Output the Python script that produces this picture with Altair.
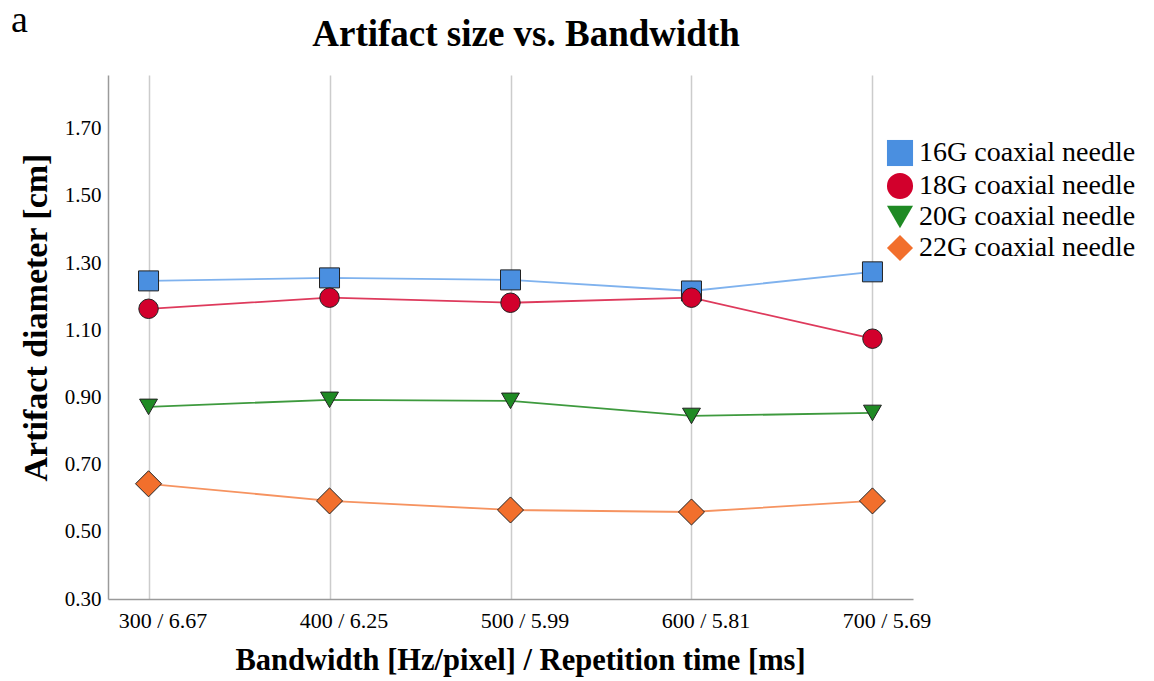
import altair as alt
import pandas as pd

categories = ["300 / 6.67", "400 / 6.25", "500 / 5.99", "600 / 5.81", "700 / 5.69"]
series_names = ["16G coaxial needle", "18G coaxial needle", "20G coaxial needle", "22G coaxial needle"]
g16 = [1.247, 1.256, 1.250, 1.217, 1.274]
g18 = [1.164, 1.197, 1.182, 1.197, 1.075]
g20 = [0.872, 0.893, 0.890, 0.845, 0.854]
g22 = [0.643, 0.592, 0.565, 0.559, 0.592]
y_ticks = [0.30, 0.50, 0.70, 0.90, 1.10, 1.30, 1.50, 1.70]

fill_colors = ["#4a8fe0", "#d2002c", "#1f8a24", "#f26f2c"]
line_colors = ["#7fb2ee", "#de3a5c", "#3e9a3e", "#f69360"]
shapes = ["square", "circle", "triangle-down", "diamond"]
sizes = [400, 380, 320, 680]

rows = []
for name, vals in zip(series_names, [g16, g18, g20, g22]):
    for c, v in zip(categories, vals):
        rows.append({"cat": c, "series": name, "value": v})
df = pd.DataFrame(rows)

FONT = "Liberation Serif"

x_enc = alt.X("cat:O", sort=categories,
              scale=alt.Scale(type="point", padding=0.224),
              axis=alt.Axis(title="Bandwidth [Hz/pixel] / Repetition time [ms]",
                            labelAngle=0, grid=True, ticks=False, labelOffset=14,
                            labelPadding=11, titlePadding=14, titleX=412))
y_enc = alt.Y("value:Q",
              scale=alt.Scale(domain=[0.30, 1.86], nice=False, zero=False),
              axis=alt.Axis(title="Artifact diameter [cm]", values=y_ticks, format=".2f",
                            grid=False, ticks=False, labelPadding=7, titlePadding=11,
                            titleY=242))

legend = alt.Legend(title=None, orient="none", legendX=778, legendY=64, padding=0,
                    symbolSize=680, symbolStrokeColor="#222222",
                    symbolStrokeWidth=1, labelFontSize=28, labelFont=FONT,
                    labelColor="black", rowPadding=1, labelOffset=5, labelLimit=400)

line_layers = []
point_layers = []
for name, sz, lc in zip(series_names, sizes, line_colors):
    base = alt.Chart(df).transform_filter(alt.datum.series == name)
    line_layers.append(base.mark_line(strokeWidth=1.8, color=lc).encode(x=x_enc, y=y_enc))
    point_layers.append(
        base.mark_point(filled=True, opacity=1, stroke="#222222", strokeWidth=1, size=sz)
        .encode(
            x=x_enc, y=y_enc,
            fill=alt.Fill("series:N", scale=alt.Scale(domain=series_names, range=fill_colors),
                          legend=legend),
            shape=alt.Shape("series:N", scale=alt.Scale(domain=series_names, range=shapes),
                            legend=legend),
        )
    )

label_a = alt.Chart(pd.DataFrame({"t": ["a"]})).mark_text(
    font=FONT, fontSize=38, align="left", baseline="alphabetic", color="black"
).encode(text="t:N", x=alt.value(-97), y=alt.value(-43))

title_txt = alt.Chart(pd.DataFrame({"t": ["Artifact size vs. Bandwidth"]})).mark_text(
    font=FONT, fontSize=37, fontWeight="bold", align="center", baseline="alphabetic",
    color="black"
).encode(text="t:N", x=alt.value(418), y=alt.value(-29))

chart = alt.layer(*line_layers, *point_layers, label_a, title_txt).properties(
    width=805, height=524,
    autosize=alt.AutoSizeParams(type="none"),
    padding={"left": 100, "top": 67, "right": 233, "bottom": 80},
).configure_view(stroke=None).configure_axis(
    labelFont=FONT, labelColor="black",
    titleFont=FONT, titleColor="black", titleFontWeight="bold",
    domainColor="#9a9a9a", domainWidth=1.5, gridColor="#cccccc", gridWidth=1.5,
).configure_axisX(titleFontSize=30.5, labelFontSize=22).configure_axisY(
    titleFontSize=34, labelFontSize=21)

chart.save("out.html", embed_options={"renderer": "svg", "actions": False})
